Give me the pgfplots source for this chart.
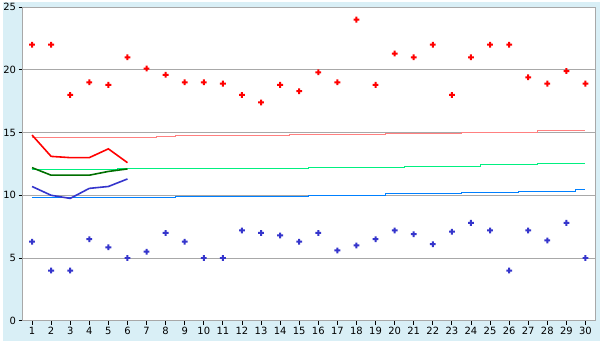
\documentclass[border=0pt]{standalone}
\usepackage{pgfplots}
\pgfplotsset{compat=1.18}
\usepackage{fontspec}
\setmainfont{DejaVu Sans}
\usetikzlibrary{backgrounds,calc}
\definecolor{bgc}{HTML}{D9EFF6}
\definecolor{ptred}{HTML}{FF0000}
\definecolor{ptblue}{HTML}{3535CC}
\definecolor{lnred}{HTML}{FF0000}
\definecolor{lngreen}{HTML}{007000}
\definecolor{lnblue}{HTML}{3535CC}
\definecolor{stpink}{HTML}{FF8080}
\definecolor{stgreen}{HTML}{00F080}
\definecolor{stblue}{HTML}{0080FF}
\definecolor{gridc}{HTML}{A8A8A8}
\pgfdeclareplotmark{fatplus}{%
  \pgfpathrectangle{\pgfpoint{-2.9pt}{-1pt}}{\pgfpoint{5.8pt}{2pt}}%
  \pgfpathrectangle{\pgfpoint{-1pt}{-2.9pt}}{\pgfpoint{2pt}{5.8pt}}%
  \pgfusepathqfill}
\begin{document}
\begin{tikzpicture}
\begin{axis}[
  scale only axis,
  width=575pt, height=315pt,
  xmin=0.5, xmax=30.5, ymin=0, ymax=25,
  xtick={1,...,30}, ytick={0,5,...,25},
  xtick pos=bottom, ytick pos=left,
  tick align=outside,
  major tick length=4pt,
  tick style={black, line width=0.8pt},
  ymajorgrids,
  major grid style={gridc, line width=0.9pt},
  axis line style={gridc, line width=1pt},
  axis background/.style={fill=white},
  ticklabel style={font=\fontsize{10}{12}\selectfont},
  /pgf/number format/assume math mode=true,
  xticklabel style={yshift=1pt},
  yticklabel style={xshift=1pt},
  clip=false,
]
% step lines
\addplot[stpink, line width=0.9pt, const plot mark mid] coordinates {
(1,14.58)(2,14.58)(3,14.58)(4,14.58)(5,14.58)(6,14.58)(7,14.58)(8,14.68)(9,14.73)(10,14.73)
(11,14.73)(12,14.73)(13,14.73)(14,14.73)(15,14.81)(16,14.81)(17,14.81)(18,14.81)(19,14.81)(20,14.89)
(21,14.89)(22,14.89)(23,14.89)(24,14.97)(25,14.97)(26,14.97)(27,14.97)(28,15.15)(29,15.15)(30,15.15)};
\addplot[stgreen, line width=0.9pt, const plot mark mid] coordinates {
(1,12.03)(2,12.03)(3,12.03)(4,12.03)(5,12.03)(6,12.11)(7,12.11)(8,12.11)(9,12.11)(10,12.11)
(11,12.11)(12,12.11)(13,12.11)(14,12.11)(15,12.11)(16,12.19)(17,12.19)(18,12.19)(19,12.19)(20,12.19)
(21,12.27)(22,12.27)(23,12.27)(24,12.27)(25,12.43)(26,12.43)(27,12.43)(28,12.52)(29,12.52)(30,12.52)};
\addplot[stblue, line width=0.9pt, const plot mark mid] coordinates {
(1,9.81)(2,9.81)(3,9.81)(4,9.81)(5,9.81)(6,9.81)(7,9.81)(8,9.81)(9,9.89)(10,9.89)
(11,9.89)(12,9.89)(13,9.89)(14,9.89)(15,9.89)(16,9.97)(17,9.97)(18,9.97)(19,9.97)(20,10.13)
(21,10.13)(22,10.13)(23,10.13)(24,10.21)(25,10.21)(26,10.21)(27,10.29)(28,10.29)(29,10.29)(30,10.45)};
% thick lines
\addplot[lnred, line width=1.6pt] coordinates {(1,14.8)(2,13.1)(3,13.0)(4,13.0)(5,13.7)(6,12.6)};
\addplot[lngreen, line width=1.6pt] coordinates {(1,12.2)(2,11.6)(3,11.6)(4,11.6)(5,11.9)(6,12.1)};
\addplot[lnblue, line width=1.6pt] coordinates {(1,10.7)(2,10.0)(3,9.75)(4,10.55)(5,10.7)(6,11.3)};
% points
\addplot[only marks, mark=fatplus, ptred] coordinates {
(1,22)(2,22)(3,18)(4,19)(5,18.8)(6,21)(7,20.1)(8,19.6)(9,19)(10,19)
(11,18.9)(12,18)(13,17.4)(14,18.8)(15,18.3)(16,19.8)(17,19)(18,24)(19,18.8)(20,21.3)
(21,21)(22,22)(23,18)(24,21)(25,22)(26,22)(27,19.4)(28,18.9)(29,19.9)(30,18.9)};
\addplot[only marks, mark=fatplus, ptblue] coordinates {
(1,6.3)(2,4)(3,4)(4,6.5)(5,5.85)(6,5)(7,5.5)(8,7)(9,6.3)(10,5)
(11,5)(12,7.2)(13,7.0)(14,6.8)(15,6.3)(16,7.0)(17,5.6)(18,6.0)(19,6.5)(20,7.2)
(21,6.9)(22,6.1)(23,7.1)(24,7.8)(25,7.2)(26,4)(27,7.2)(28,6.4)(29,7.8)(30,5)};
\end{axis}
\begin{scope}[on background layer]
\fill[bgc] ($(current axis.south west)+(-20pt,-20pt)$) rectangle ($(current axis.north east)+(5pt,5pt)$);
\end{scope}
\end{tikzpicture}
\end{document}
